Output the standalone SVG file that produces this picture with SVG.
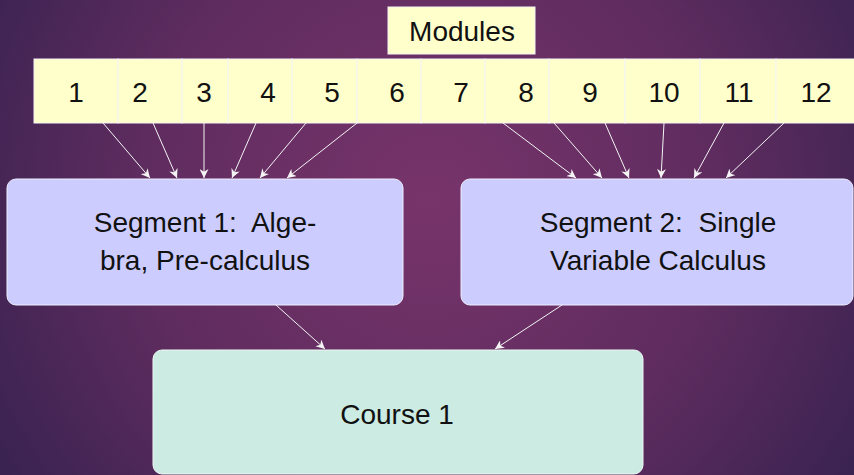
<svg xmlns="http://www.w3.org/2000/svg" width="854" height="475" viewBox="0 0 854 475">
<defs>
<radialGradient id="bg" cx="430" cy="200" r="520" gradientUnits="userSpaceOnUse">
<stop offset="0" stop-color="#77346b"/>
<stop offset="0.55" stop-color="#5f2c5f"/>
<stop offset="1" stop-color="#372250"/>
</radialGradient>
<marker id="ah" viewBox="0 0 10 10" refX="10" refY="5" markerWidth="9" markerHeight="9" markerUnits="userSpaceOnUse" orient="auto">
<path d="M0,0 L10,5 L0,10 L3,5 Z" fill="#f4f4f4"/>
</marker>
<style>
.t{font-family:"Liberation Sans",Arial,sans-serif;font-size:28px;fill:#111;text-anchor:middle}
.cell{fill:#ffffcc;stroke:#f4f4f4;stroke-width:1}
.seg{fill:#ccccff;stroke:#eeeeff;stroke-width:1}
.crs{fill:#cbebe3;stroke:#eef8f5;stroke-width:1}
.c{stroke:#f4f4f4;stroke-width:1;fill:none;marker-end:url(#ah)}
</style>
</defs>
<rect width="854" height="475" fill="url(#bg)"/>
<g id="modules">
<rect class="cell" x="388" y="7" width="147" height="47"/>
<text class="t" x="462" y="41">Modules</text>
</g>
<g id="m1"><rect class="cell" x="34" y="59" width="84" height="64"/><text class="t" x="76" y="102">1</text></g>
<g id="m2"><rect class="cell" x="118" y="59" width="64" height="64"/><text class="t" x="140" y="102">2</text></g>
<g id="m3"><rect class="cell" x="182" y="59" width="46" height="64"/><text class="t" x="204" y="102">3</text></g>
<g id="m4"><rect class="cell" x="228" y="59" width="64" height="64"/><text class="t" x="268" y="102">4</text></g>
<g id="m5"><rect class="cell" x="292" y="59" width="65" height="64"/><text class="t" x="332" y="102">5</text></g>
<g id="m6"><rect class="cell" x="357" y="59" width="64" height="64"/><text class="t" x="397" y="102">6</text></g>
<g id="m7"><rect class="cell" x="421" y="59" width="64" height="64"/><text class="t" x="461" y="102">7</text></g>
<g id="m8"><rect class="cell" x="485" y="59" width="64" height="64"/><text class="t" x="526" y="102">8</text></g>
<g id="m9"><rect class="cell" x="549" y="59" width="76" height="64"/><text class="t" x="590" y="102">9</text></g>
<g id="m10"><rect class="cell" x="625" y="59" width="75" height="64"/><text class="t" x="664" y="102">10</text></g>
<g id="m11"><rect class="cell" x="700" y="59" width="76" height="64"/><text class="t" x="739" y="102">11</text></g>
<g id="m12"><rect class="cell" x="776" y="59" width="80" height="64"/><text class="t" x="816" y="102">12</text></g>
<g id="seg1">
<rect class="seg" x="7" y="179" width="396" height="126" rx="9"/>
<text class="t" x="205" y="232" xml:space="preserve">Segment 1:  Alge-</text>
<text class="t" x="205" y="270">bra, Pre-calculus</text>
</g>
<g id="seg2">
<rect class="seg" x="461" y="179" width="392" height="126" rx="9"/>
<text class="t" x="658" y="232" xml:space="preserve">Segment 2:  Single</text>
<text class="t" x="658" y="270">Variable Calculus</text>
</g>
<g id="course1">
<rect class="crs" x="153" y="350" width="490" height="124" rx="9"/>
<text class="t" x="397" y="424">Course 1</text>
</g>
<g id="connectors">
<line class="c" x1="103" y1="123" x2="150" y2="178"/>
<line class="c" x1="153" y1="123" x2="177" y2="178"/>
<line class="c" x1="204" y1="123" x2="204" y2="178"/>
<line class="c" x1="256" y1="123" x2="232" y2="178"/>
<line class="c" x1="306" y1="123" x2="260" y2="178"/>
<line class="c" x1="357" y1="123" x2="287" y2="178"/>
<line class="c" x1="503" y1="123" x2="576" y2="178"/>
<line class="c" x1="554" y1="123" x2="602" y2="178"/>
<line class="c" x1="605" y1="123" x2="629" y2="178"/>
<line class="c" x1="664" y1="123" x2="661" y2="178"/>
<line class="c" x1="724" y1="123" x2="694" y2="178"/>
<line class="c" x1="784" y1="123" x2="726" y2="178"/>
<line class="c" x1="276" y1="305" x2="325" y2="349"/>
<line class="c" x1="562" y1="305" x2="495" y2="349"/>
</g>
</svg>
